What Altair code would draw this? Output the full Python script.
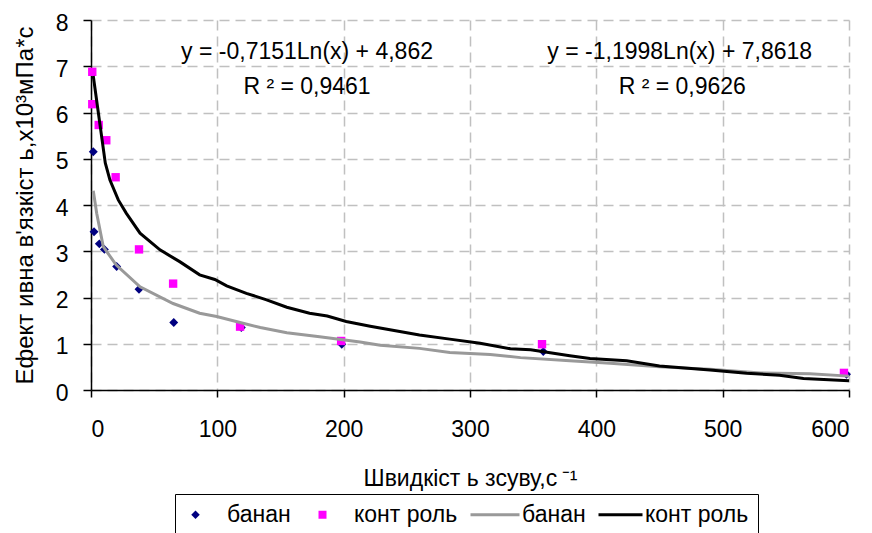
import altair as alt
import pandas as pd

# ---- data ----
banan_x = [1.8, 2.4, 6.6, 10.6, 20.3, 38, 65.5, 119, 198.5, 358, 598]
banan_y = [5.15, 3.42, 3.16, 3.04, 2.67, 2.18, 1.46, 1.35, 0.99, 0.83, 0.34]

kontrol_x = [1.0, 1.0, 6.1, 12.1, 19.5, 38, 65, 118, 198, 357, 596]
kontrol_y = [6.88, 6.18, 5.73, 5.40, 4.60, 3.04, 2.30, 1.37, 1.06, 0.99, 0.37]

# trend lines
banan_line_x = [1.8, 4.5, 9.7, 20, 38.8, 65, 86, 99.5, 118, 134, 155, 181, 213, 229,
                260, 284, 316, 340, 379, 411, 450, 490, 530, 569, 600]
banan_line_y = [4.31, 3.82, 3.10, 2.70, 2.23, 1.87, 1.66, 1.59, 1.46, 1.35, 1.24, 1.15, 1.04, 0.97,
                0.90, 0.81, 0.77, 0.70, 0.63, 0.58, 0.50, 0.45, 0.37, 0.35, 0.30]

kontrol_line_x = [1.8, 11.3, 15, 21.6, 28, 38.8, 54.6, 70.5, 86, 98, 107.4, 123, 139, 155, 173,
                  187, 202, 221, 260, 284, 308, 332, 348, 379, 395, 424, 450, 490, 519, 545, 564, 600]
kontrol_line_y = [6.79, 4.91, 4.54, 4.11, 3.82, 3.39, 3.03, 2.77, 2.49, 2.39, 2.25, 2.09, 1.95, 1.79, 1.66,
                  1.60, 1.48, 1.38, 1.19, 1.10, 1.01, 0.89, 0.87, 0.74, 0.68, 0.63, 0.52, 0.43, 0.36, 0.32, 0.25, 0.20]

series_names = ["банан", "конт роль", "банан ", "конт роль "]
series_colors = ["#000080", "#ff00ff", "#999999", "#000000"]

annot_text = ["y = -0,7151Ln(x) + 4,862", "R ² = 0,9461",
              "y = -1,1998Ln(x) + 7,8618", "R ² = 0,9626"]
annot_x = [171, 171, 466, 468]
annot_y = [7.31, 6.56, 7.31, 6.56]

x_ticks = [0, 100, 200, 300, 400, 500, 600]
y_ticks = [0, 1, 2, 3, 4, 5, 6, 7, 8]

# ---- tables ----
pts = pd.DataFrame({
    "x": banan_x + kontrol_x,
    "y": banan_y + kontrol_y,
    "series": [series_names[0]] * len(banan_x) + [series_names[1]] * len(kontrol_x),
})
lines = pd.DataFrame({
    "x": banan_line_x + kontrol_line_x,
    "y": banan_line_y + kontrol_line_y,
    "series": [series_names[2]] * len(banan_line_x) + [series_names[3]] * len(kontrol_line_x),
})
annots = pd.DataFrame({"x": annot_x, "y": annot_y, "t": annot_text})

FONT = "Liberation Sans"

shape_paths = [
    "M-5.2,0M0,-0.85L0.85,0L0,0.85L-0.85,0Z",
    "M-3.8,0M-0.8,-0.8L0.8,-0.8L0.8,0.8L-0.8,0.8Z",
    "M-4,-0.3L5.8,-0.3L5.8,0.3L-4,0.3Z",
    "M-3,-0.3L5.8,-0.3L5.8,0.3L-3,0.3Z",
]

legend = alt.Legend(
    title=None, orient="none", legendX=84, legendY=474,
    direction="horizontal", columns=4,
    labelExpr="trim(datum.label)", labelFont=FONT, labelFontSize=23, labelColor="black",
    symbolSize=100, symbolStrokeWidth=0, labelOffset=20, columnPadding=12,
    padding=9, strokeColor="black", fillColor="white", symbolOpacity=1,
)

color_scale = alt.Scale(domain=series_names, range=series_colors)
shape_scale = alt.Scale(domain=series_names, range=shape_paths)

x_enc = alt.X("x:Q", scale=alt.Scale(domain=[0, 600], nice=False),
              axis=alt.Axis(values=x_ticks, title="Швидкіст ь зсуву,с\u2009⁻¹", format="d"))
y_enc = alt.Y("y:Q", scale=alt.Scale(domain=[0, 8], nice=False),
              axis=alt.Axis(values=y_ticks, title="Ефект ивна в'язкіст ь,x10³мПа*с", format="d"))

points = alt.Chart(pts).mark_point(filled=True, size=110, opacity=1).encode(
    x=x_enc, y=y_enc,
    color=alt.Color("series:N", scale=color_scale, legend=legend),
    shape=alt.Shape("series:N", scale=shape_scale, legend=legend),
)

trend = alt.Chart(lines).mark_line(strokeWidth=3).encode(
    x="x:Q", y="y:Q",
    color=alt.Color("series:N", scale=color_scale, legend=None),
    detail="series:N",
)

text = alt.Chart(annots).mark_text(font=FONT, fontSize=23, color="black",
                                   align="center", baseline="middle").encode(
    x="x:Q", y="y:Q", text="t:N")

chart = alt.layer(points, trend, text).properties(
    width=758, height=370,
    autosize=alt.AutoSizeParams(type="none"),
    padding={"left": 83, "top": 12, "right": 15, "bottom": 150},
).configure_view(stroke=None).configure_axis(
    labelFont=FONT, labelFontSize=23, labelColor="black",
    titleFont=FONT, titleFontWeight="normal", titleColor="black",
    domainColor="black", domainWidth=1.5, tickColor="black", tickWidth=1.5,
    gridColor="#c0c0c0", gridDash=[10, 6], gridWidth=1.5,
).configure_axisX(
    tickSize=7, labelPadding=21, titlePadding=26, titleFontSize=23,
).configure_axisY(
    tickSize=8, labelPadding=15, titlePadding=18, titleFontSize=24, labelOffset=3,
)

chart.save("out.html", embed_options={"renderer": "svg", "actions": False})
